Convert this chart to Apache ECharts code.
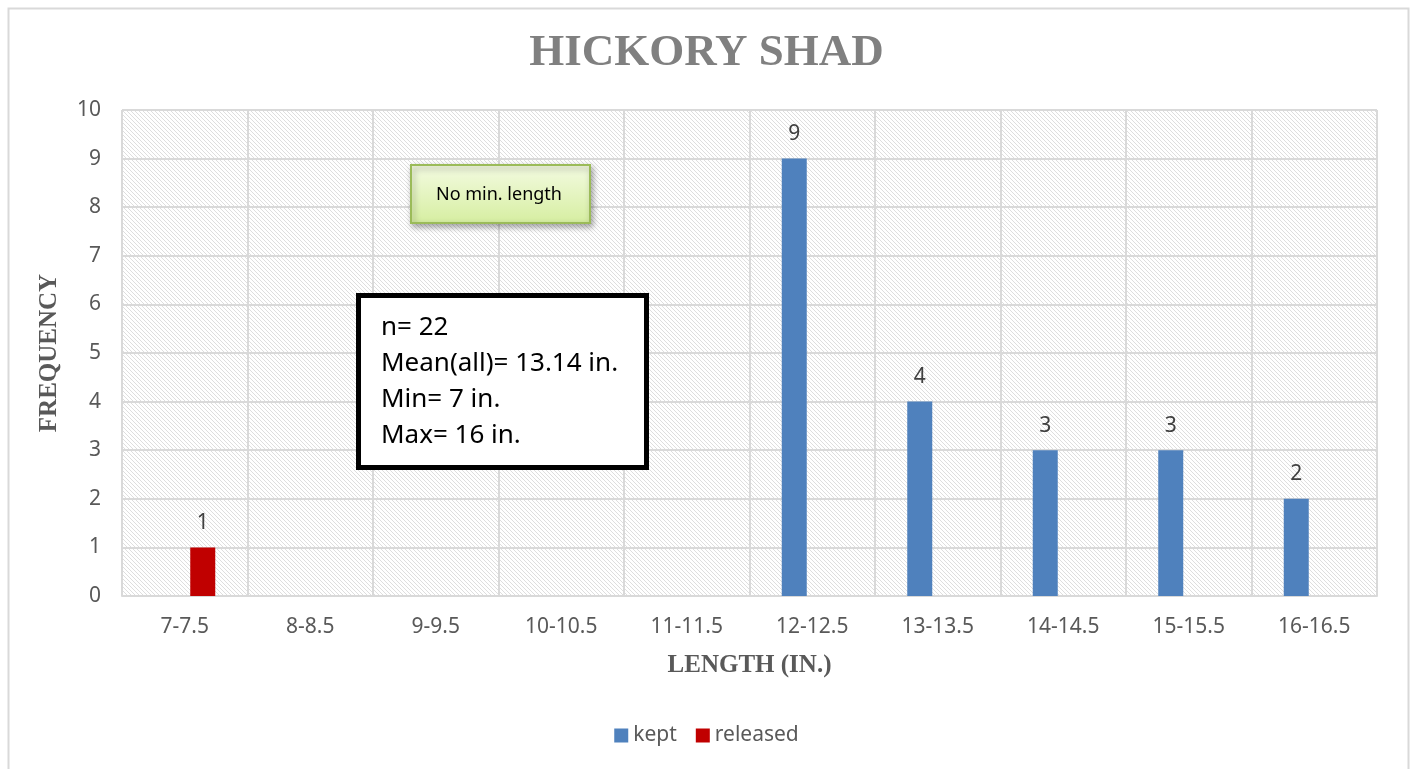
<!DOCTYPE html>
<html>
<head>
<meta charset="utf-8">
<title>Hickory Shad</title>
<script src="https://cdn.jsdelivr.net/npm/echarts@6/dist/echarts.min.js"></script>
<style>
  html, body { margin: 0; padding: 0; background: #fff; }
  #chart { width: 1413px; height: 769px; }
</style>
</head>
<body>
<div id="chart"></div>
<script>
// length classes (in.)
const categories = ['7-7.5', '8-8.5', '9-9.5', '10-10.5', '11-11.5', '12-12.5', '13-13.5', '14-14.5', '15-15.5', '16-16.5'];
// frequency per class
const keptValues = [null, null, null, null, null, 9, 4, 3, 3, 2];
const releasedValues = [1, null, null, null, null, null, null, null, null, null];
const yTicks = { min: 0, max: 10, interval: 1 };
const statsLines = ['n= 22', 'Mean(all)= 13.14 in.', 'Min= 7 in.', 'Max= 16 in.'];

// diagonal hatch for the plot area
function hatchPattern() {
  const c = document.createElement('canvas');
  c.width = 8;
  c.height = 8;
  const ctx = c.getContext('2d');
  ctx.fillStyle = '#ffffff';
  ctx.fillRect(0, 0, 8, 8);
  ctx.strokeStyle = '#dedede';
  ctx.lineWidth = 1;
  for (let k = -8; k <= 8; k += 4) {
    ctx.beginPath();
    ctx.moveTo(0, k);
    ctx.lineTo(8, k + 8);
    ctx.stroke();
  }
  return { image: c, repeat: 'repeat' };
}

const chart = echarts.init(document.getElementById('chart'));
const labelFont = 'Noto Sans';
const gridColor = '#d9d9d9';

const option = {
  backgroundColor: '#ffffff',
  animation: false,
  title: {
    text: 'HICKORY SHAD',
    left: 'center',
    top: 26,
    textStyle: {
      fontFamily: 'Liberation Serif',
      fontWeight: 'bold',
      fontSize: 45,
      color: '#808080'
    }
  },
  grid: {
    left: 122,
    top: 110,
    right: 36,
    bottom: 173,
    show: true,
    borderWidth: 0,
    backgroundColor: hatchPattern()
  },
  legend: {
    bottom: 18,
    left: 'center',
    itemWidth: 14,
    itemHeight: 14,
    itemGap: 19,
    icon: 'rect',
    textStyle: { fontFamily: labelFont, fontSize: 21, color: '#595959' },
    data: ['kept', 'released']
  },
  xAxis: {
    type: 'category',
    data: categories,
    name: 'LENGTH (IN.)',
    nameLocation: 'middle',
    nameGap: 57,
    nameTextStyle: {
      fontFamily: 'Liberation Serif',
      fontWeight: 'bold',
      fontSize: 25,
      color: '#595959'
    },
    axisLine: { lineStyle: { color: gridColor, width: 2 } },
    axisTick: { alignWithLabel: true, length: 6, lineStyle: { color: gridColor, width: 2 } },
    axisLabel: { fontFamily: labelFont, fontSize: 21, color: '#595959', margin: 21 },
    splitLine: { show: true, lineStyle: { color: gridColor, width: 2 } }
  },
  yAxis: {
    type: 'value',
    min: yTicks.min,
    max: yTicks.max,
    interval: yTicks.interval,
    name: 'FREQUENCY',
    nameLocation: 'middle',
    nameRotate: 90,
    nameGap: 60,
    nameTextStyle: {
      fontFamily: 'Liberation Serif',
      fontWeight: 'bold',
      fontSize: 25,
      color: '#595959'
    },
    axisLine: { show: false },
    axisTick: { show: false },
    axisLabel: { fontFamily: labelFont, fontSize: 21, color: '#595959', margin: 21 },
    splitLine: { lineStyle: { color: gridColor, width: 2 } }
  },
  series: [
    {
      name: 'kept',
      type: 'bar',
      data: keptValues,
      barWidth: 25,
      barGap: '44%',
      itemStyle: { color: '#4f81bd' },
      label: {
        show: true,
        position: 'top',
        distance: 14,
        fontFamily: labelFont,
        fontSize: 21,
        color: '#404040'
      }
    },
    {
      name: 'released',
      type: 'bar',
      data: releasedValues,
      barWidth: 25,
      itemStyle: { color: '#c00000' },
      label: {
        show: true,
        position: 'top',
        distance: 14,
        fontFamily: labelFont,
        fontSize: 21,
        color: '#404040'
      }
    }
  ],
  graphic: [
    // outer chart frame
    {
      type: 'rect',
      left: 6,
      top: 6,
      shape: { width: 1400, height: 762 },
      style: { fill: null, stroke: '#d9d9d9', lineWidth: 2 },
      silent: true,
      z: -1
    },
    // "No min. length" note
    {
      type: 'rect',
      left: 410,
      top: 164,
      z: 100,
      shape: { width: 179, height: 58 },
      style: {
        fill: new echarts.graphic.LinearGradient(0, 0, 0, 1, [
          { offset: 0, color: '#f4fbe2' },
          { offset: 1, color: '#d6eea0' }
        ]),
        stroke: '#9bbb59',
        lineWidth: 2,
        shadowBlur: 6,
        shadowOffsetX: 2,
        shadowOffsetY: 3,
        shadowColor: 'rgba(0,0,0,0.35)'
      }
    },
    {
      type: 'text',
      left: 436,
      top: 186,
      z: 101,
      style: {
        text: 'No min. length',
        fontFamily: labelFont,
        fontSize: 18,
        fill: '#000000'
      }
    },
    // summary box
    {
      type: 'rect',
      left: 356,
      top: 293,
      z: 100,
      shape: { width: 288, height: 172 },
      style: { fill: '#ffffff', stroke: '#000000', lineWidth: 5 }
    },
    {
      type: 'text',
      left: 381,
      top: 310,
      z: 101,
      style: {
        text: statsLines.join('\n'),
        fontFamily: labelFont,
        fontSize: 26,
        lineHeight: 36,
        fill: '#000000'
      }
    }
  ]
};

chart.setOption(option);
</script>
</body>
</html>
